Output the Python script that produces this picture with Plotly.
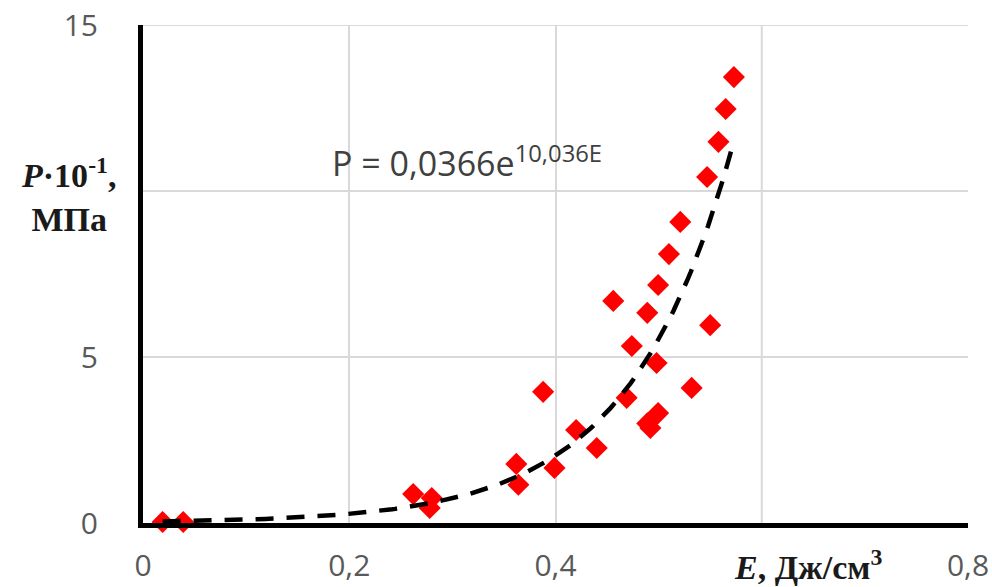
import numpy as np
import plotly.graph_objects as go

# Data
energy = [0.019, 0.039, 0.262, 0.278, 0.280, 0.362, 0.364, 0.388, 0.399, 0.420,
          0.440, 0.456, 0.469, 0.474, 0.489, 0.489, 0.492, 0.498, 0.4995, 0.4995,
          0.510, 0.521, 0.532, 0.547, 0.550, 0.558, 0.565, 0.573]
pressure = [0.03, 0.03, 0.87, 0.45, 0.75, 1.78, 1.15, 3.95, 1.66, 2.80,
            2.26, 6.69, 3.77, 5.33, 6.33, 3.00, 2.86, 4.82, 3.31, 7.17,
            8.10, 9.07, 4.07, 10.42, 5.96, 11.48, 12.47, 13.43]

# Exponential trendline coefficients (as printed on the chart)
fit_a = 0.0366
fit_b = 10.036

# labelled ticks (the 0,6 and 10 labels are covered by the axis titles in the reference)
x_tickvals = [0, 0.2, 0.4, 0.8]
x_ticktext = ["0", "0,2", "0,4", "0,8"]
y_tickvals = [0, 5, 15]
y_ticktext = ["0", "5", "15"]
# unlabelled grid positions
x_extra_grid = [0.6]
y_extra_grid = [10, 15]

fit_x = np.linspace(min(energy), max(energy), 200)
fit_y = fit_a * np.exp(fit_b * fit_x)

fig = go.Figure()
fig.add_trace(go.Scatter(
    x=energy, y=pressure, mode="markers",
    marker=dict(symbol="diamond", size=17, color="#ff0000", line=dict(width=0)),
    showlegend=False, hoverinfo="skip", cliponaxis=False))
fig.add_trace(go.Scatter(
    x=fit_x, y=fit_y, mode="lines",
    line=dict(color="black", width=4.5, dash="18px,13px"),
    showlegend=False, hoverinfo="skip"))

tick_font = dict(family="Open Sans", size=30, color="#595959")
grid_col = "#d9d9d9"

fig.update_xaxes(
    range=[0, 0.8], tickvals=x_tickvals, ticktext=x_ticktext,
    showgrid=True, gridcolor=grid_col, gridwidth=2,
    showline=True, linecolor="black", linewidth=5,
    zeroline=False, ticks="", tickfont=tick_font, ticklabelstandoff=12,
    automargin=False)
fig.update_yaxes(
    range=[0, 15], tickvals=y_tickvals, ticktext=y_ticktext,
    showgrid=True, gridcolor=grid_col, gridwidth=2,
    showline=True, linecolor="black", linewidth=5,
    zeroline=False, ticks="", tickfont=tick_font, ticklabelstandoff=34,
    automargin=False)

for gx in x_extra_grid:
    fig.add_shape(type="line", xref="x", yref="paper", x0=gx, x1=gx, y0=0, y1=1,
                  line=dict(color=grid_col, width=2), layer="below")
for gy in y_extra_grid:
    fig.add_shape(type="line", xref="paper", yref="y", x0=0, x1=1, y0=gy, y1=gy,
                  line=dict(color=grid_col, width=2), layer="below")

fig.add_annotation(
    x=0.181, y=10.9, xref="x", yref="y", xanchor="left", yanchor="middle",
    text="P = 0,0366e<sup>10,036E</sup>", showarrow=False,
    font=dict(family="Open Sans", size=34, color="#404040"))

fig.add_annotation(
    x=(68 - 143) / 825, y=(523 - 195) / 498, xref="paper", yref="paper",
    xanchor="center", yanchor="middle", showarrow=False,
    text="<b><i>P</i>·10<sup>-1</sup>,</b><br><b>МПа</b>",
    font=dict(family="Liberation Serif", size=34, color="#1a1a1a"))

fig.add_annotation(
    x=(808 - 143) / 825, y=(523 - 565) / 498, xref="paper", yref="paper",
    xanchor="center", yanchor="middle", showarrow=False,
    text="<b><i>E</i>, Дж/см<sup>3</sup></b>",
    font=dict(family="Liberation Serif", size=34, color="#1a1a1a"))

fig.update_layout(
    width=992, height=587,
    margin=dict(l=143, r=24, t=25, b=64),
    plot_bgcolor="white", paper_bgcolor="white")

fig.write_html("out.html")
